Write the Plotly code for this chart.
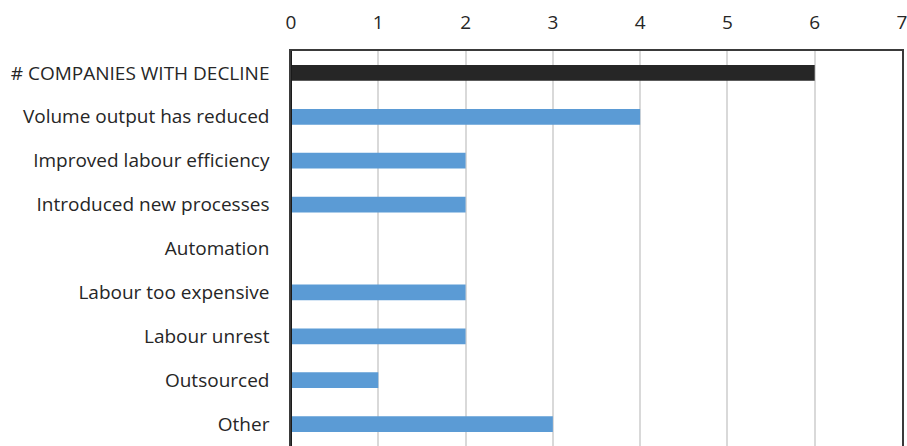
import plotly.graph_objects as go

categories = [
    "# COMPANIES WITH DECLINE",
    "Volume output has reduced",
    "Improved labour efficiency",
    "Introduced new processes",
    "Automation",
    "Labour too expensive",
    "Labour unrest",
    "Outsourced",
    "Other",
]
values = [6, 4, 2, 2, 0, 2, 2, 1, 3]
bar_colors = ["#262626"] + ["#5b9bd5"] * 8
x_ticks = [0, 1, 2, 3, 4, 5, 6, 7]

FONT = "Open Sans, Lato, sans-serif"

fig = go.Figure(
    go.Bar(
        x=values,
        y=categories,
        orientation="h",
        marker=dict(color=bar_colors, line=dict(width=0)),
        width=0.36,
    )
)

fig.update_layout(
    width=907,
    height=446,
    margin=dict(l=291, r=5, t=51, b=0),
    plot_bgcolor="white",
    paper_bgcolor="white",
    showlegend=False,
    font=dict(family=FONT, size=19, color="#262626"),
    xaxis=dict(
        side="top",
        range=[0, 7],
        tickvals=x_ticks,
        showgrid=True,
        gridcolor="#d9d9d9",
        gridwidth=1.5,
        zeroline=False,
        showline=True,
        linecolor="#3a3a3a",
        linewidth=1.5,
        mirror=False,
        ticks="",
        tickfont=dict(size=19, color="#262626"),
        ticklabelstandoff=13,
        ticklabeloverflow="allow",
    ),
    yaxis=dict(
        autorange=False,
        range=[8.5, -0.5],
        categoryorder="array",
        categoryarray=categories,
        showgrid=False,
        zeroline=False,
        showline=True,
        linecolor="#3a3a3a",
        linewidth=1.5,
        mirror=True,
        ticks="",
        ticklabelstandoff=16,
        tickfont=dict(size=19, color="#262626"),
    ),
    shapes=[
        # darker value-axis baseline at zero
        dict(type="line", xref="x", yref="paper", x0=0, x1=0, y0=0, y1=1,
             line=dict(color="#1a1a1a", width=2), layer="above"),
    ],
)

fig.write_html("out.html")
